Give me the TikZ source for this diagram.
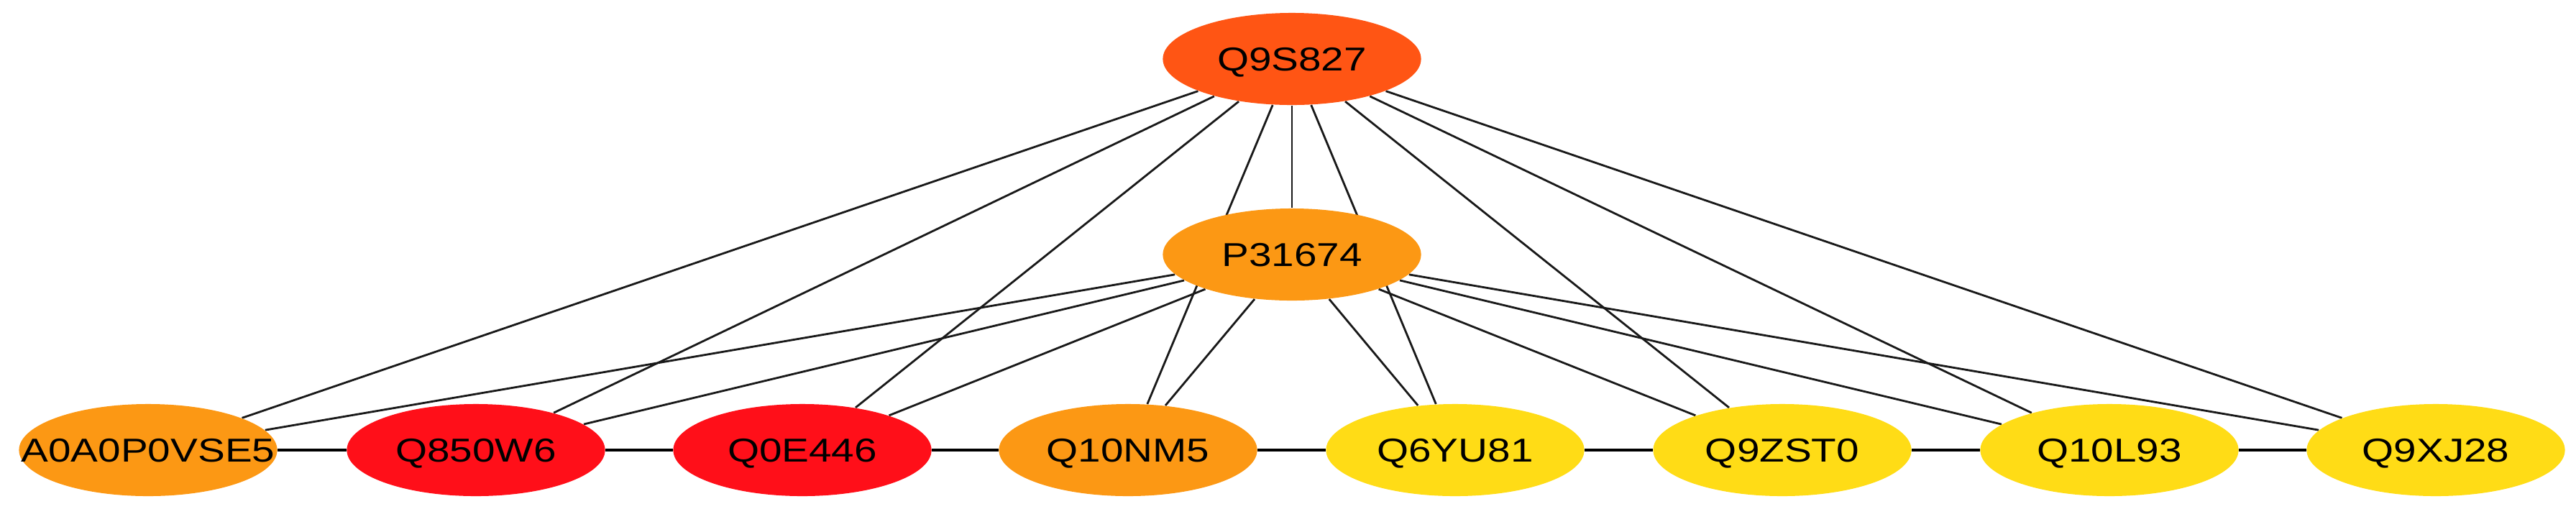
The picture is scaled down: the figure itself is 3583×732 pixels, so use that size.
\documentclass[tikz,border=0pt]{standalone}
\usepackage{fontspec}
\setmainfont{Liberation Sans}
\usetikzlibrary{shapes.geometric,backgrounds}
\definecolor{ctop}{RGB}{255,85,20}
\definecolor{corange}{RGB}{252,152,20}
\definecolor{cred}{RGB}{255,15,25}
\definecolor{cyellow}{RGB}{255,220,22}
\newcommand{\lbl}[1]{\makebox[0pt]{\scalebox{1.23}[1]{\fontsize{13.1}{15}\selectfont #1}}}
\tikzset{
  prot/.style={ellipse, minimum width=3.59cm, minimum height=1.28cm, inner sep=0pt,
    text height=9.4pt, text depth=0pt, draw=none},
  edge/.style={draw=black!90, line width=0.8pt},
  chain/.style={draw=black, line width=1pt}
}
\begin{document}
\begin{tikzpicture}[x=0.01cm,y=-0.01cm]
\useasboundingbox (0,0) rectangle (3583,732);
\node[prot, fill=ctop] (q9s) at (1797,82) {\lbl{Q9S827}};
\node[prot, fill=corange] (p31) at (1797,354) {\lbl{P31674}};
\node[prot, fill=corange] (a0a) at (206,626) {\lbl{A0A0P0VSE5}};
\node[prot, fill=cred] (q85) at (662,626) {\lbl{Q850W6}};
\node[prot, fill=cred] (q0e) at (1116,626) {\lbl{Q0E446}};
\node[prot, fill=corange] (q10n) at (1569,626) {\lbl{Q10NM5}};
\node[prot, fill=cyellow] (q6y) at (2024,626) {\lbl{Q6YU81}};
\node[prot, fill=cyellow] (q9z) at (2479,626) {\lbl{Q9ZST0}};
\node[prot, fill=cyellow] (q10l) at (2934,626) {\lbl{Q10L93}};
\node[prot, fill=cyellow] (q9x) at (3388,626) {\lbl{Q9XJ28}};
\begin{scope}[on background layer]
\draw[edge] (q9s) -- (p31);
\foreach \n in {a0a,q85,q0e,q10n,q6y,q9z,q10l,q9x}{
  \draw[edge] (q9s) -- (\n);
  \draw[edge] (p31) -- (\n);
}
\draw[chain] (a0a) -- (q85);
\draw[chain] (q85) -- (q0e);
\draw[chain] (q0e) -- (q10n);
\draw[chain] (q10n) -- (q6y);
\draw[chain] (q6y) -- (q9z);
\draw[chain] (q9z) -- (q10l);
\draw[chain] (q10l) -- (q9x);
\end{scope}
\end{tikzpicture}
\end{document}
